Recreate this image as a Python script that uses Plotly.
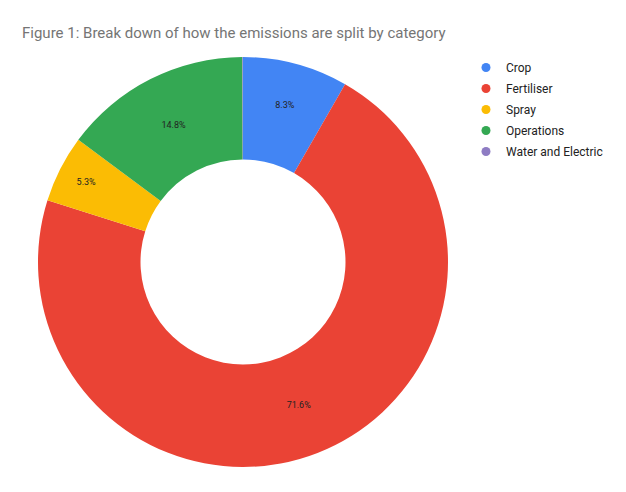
import plotly.graph_objects as go

categories = ["Crop", "Fertiliser", "Spray", "Operations", "Water and Electric"]
shares = [8.3, 71.6, 5.3, 14.8, 0.05]
slice_labels = ["8.3%", "71.6%", "5.3%", "14.8%", ""]
colours = ["#4285f4", "#ea4335", "#fbbc04", "#34a853", "#8e7cc3"]

W, H = 626, 492
# page body has an 8px margin, so positions are shifted back by 8
off = 8
cx, cy, r = 243 - off, 262 - off, 205

fig = go.Figure()

fig.add_trace(go.Pie(
    labels=categories,
    values=shares,
    text=slice_labels,
    textinfo="text",
    textposition="inside",
    insidetextorientation="horizontal",
    textfont=dict(family="Roboto", size=9, color="#222222"),
    hole=0.5,
    sort=False,
    direction="clockwise",
    rotation=0,
    marker=dict(colors=colours, line=dict(width=0)),
    showlegend=False,
    hoverinfo="label+percent",
    domain=dict(x=[(cx - r) / W, (cx + r) / W], y=[(H - cy - r) / H, (H - cy + r) / H]),
))

# legend entries with round markers
for name, col in zip(categories, colours):
    fig.add_trace(go.Scatter(
        x=[None], y=[None], mode="markers", name=name, legendgroup=name,
        marker=dict(symbol="circle", size=9, color=col),
    ))

fig.update_layout(
    width=W, height=H,
    margin=dict(l=0, r=0, t=0, b=0),
    paper_bgcolor="white",
    plot_bgcolor="white",
    font=dict(family="Roboto", color="#222222"),
    title=dict(
        text="Figure 1: Break down of how the emissions are split by category",
        font=dict(family="Roboto", size=15, color="#757575"),
        x=(22 - off) / W, xanchor="left", xref="paper",
        y=1 - (33 - off) / H, yanchor="middle",
    ),
    legend=dict(
        x=(466 - off) / W, xanchor="left",
        y=1 - 45 / H, yanchor="top",
        tracegroupgap=2,
        font=dict(family="Roboto", size=12, color="#222222"),
        bgcolor="rgba(0,0,0,0)",
        itemclick=False,
    ),
    xaxis=dict(visible=False),
    yaxis=dict(visible=False),
)

fig.write_html("out.html")
